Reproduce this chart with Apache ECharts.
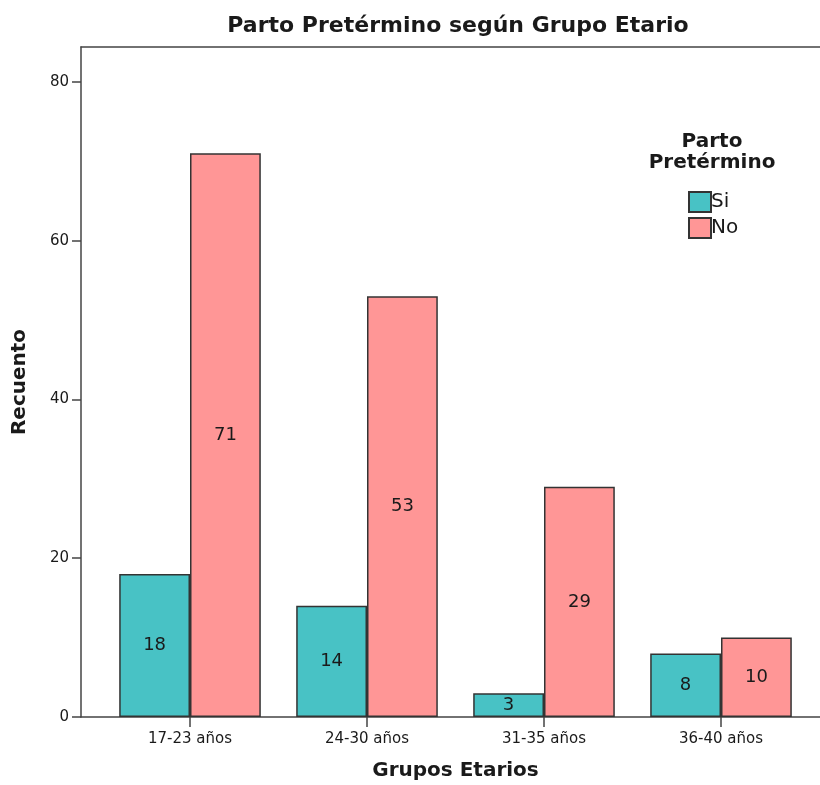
<!DOCTYPE html>
<html>
<head>
<meta charset="utf-8">
<script src="https://cdn.jsdelivr.net/npm/echarts@6/dist/echarts.min.js"></script>
<style>
  html, body { margin: 0; padding: 0; background: #fff; }
  #chart { width: 820px; height: 785px; }
</style>
</head>
<body>
<div id="chart"></div>
<script>
// Age groups and counts of preterm births (Si) vs not (No)
const categories = ['17-23 años', '24-30 años', '31-35 años', '36-40 años'];
const siValues = [18, 14, 3, 8];
const noValues = [71, 53, 29, 10];
const yTicks = [0, 20, 40, 60, 80];
const yMax = 84.4;

const FONT = '"DejaVu Sans", Verdana, sans-serif';
const INK = '#1a1a1a';
const LINE = '#444';

const chart = echarts.init(document.getElementById('chart'));

chart.setOption({
  animation: false,
  textStyle: { fontFamily: FONT },
  title: {
    text: 'Parto Pretérmino según Grupo Etario',
    left: 453, top: 10, textAlign: 'center',
    textStyle: { fontSize: 22, fontWeight: 'bold', color: INK, fontFamily: FONT }
  },
  legend: {
    orient: 'vertical',
    left: 683, top: 186,
    itemWidth: 22, itemHeight: 20, itemGap: 4,
    icon: 'rect',
    textStyle: { fontSize: 20, lineHeight: 20, color: INK, padding: [0, 0, 0, -5] },
    data: ['Si', 'No']
  },
  graphic: [{
    type: 'text',
    x: 712, y: 131,
    style: {
      text: 'Parto\nPretérmino',
      fontSize: 20, fontWeight: 'bold', fontFamily: FONT,
      fill: INK, align: 'center', verticalAlign: 'top', lineHeight: 21
    }
  }],
  grid: [
    // frame grid: axis line, top border and value ticks
    { left: 81, top: 47, right: -10, bottom: 68, outerBoundsMode: 'none', containLabel: false },
    // bar grid: category slots
    { left: 101.5, top: 47, right: 10.5, bottom: 68, outerBoundsMode: 'none', containLabel: false }
  ],
  xAxis: [
    {
      gridIndex: 0, type: 'value', min: 0, max: 1, position: 'bottom',
      axisLine: { show: true, lineStyle: { color: LINE, width: 1.5 } },
      axisTick: { show: false }, axisLabel: { show: false }, splitLine: { show: false }
    },
    {
      gridIndex: 0, type: 'value', min: 0, max: 1, position: 'top',
      axisLine: { show: true, lineStyle: { color: LINE, width: 1.5 } },
      axisTick: { show: false }, axisLabel: { show: false }, splitLine: { show: false }
    },
    {
      gridIndex: 1, type: 'category', data: categories,
      boundaryGap: true,
      name: 'Grupos Etarios', nameLocation: 'middle', nameGap: 44,
      nameTextStyle: { fontSize: 20, fontWeight: 'bold', color: INK, fontFamily: FONT },
      axisLine: { show: false },
      axisTick: { show: true, alignWithLabel: true, length: 10, lineStyle: { color: LINE, width: 1.5 } },
      axisLabel: { fontSize: 15, color: INK, margin: 15 }
    }
  ],
  yAxis: [
    {
      gridIndex: 0, type: 'value', min: 0, max: yMax,
      name: 'Recuento', nameLocation: 'middle', nameGap: 51, nameRotate: 90,
      nameTextStyle: { fontSize: 20, fontWeight: 'bold', color: INK, fontFamily: FONT },
      axisLine: { show: true, lineStyle: { color: LINE, width: 1.5 } },
      axisTick: { show: true, length: 9, customValues: yTicks, lineStyle: { color: LINE, width: 1.5 } },
      axisLabel: { fontSize: 15, color: INK, margin: 12, customValues: yTicks },
      splitLine: { show: false }
    },
    {
      gridIndex: 1, type: 'value', min: 0, max: yMax, show: false
    }
  ],
  series: [
    {
      name: 'Si', type: 'bar', xAxisIndex: 2, yAxisIndex: 1,
      data: siValues,
      barGap: 0, barCategoryGap: '20%',
      itemStyle: { color: '#48C2C5', borderColor: '#333', borderWidth: 1.5 },
      label: { show: true, position: 'inside', fontSize: 18, color: INK }
    },
    {
      name: 'No', type: 'bar', xAxisIndex: 2, yAxisIndex: 1,
      data: noValues,
      barGap: 0, barCategoryGap: '20%',
      itemStyle: { color: '#FF9696', borderColor: '#333', borderWidth: 1.5 },
      label: { show: true, position: 'inside', fontSize: 18, color: INK }
    }
  ]
});
</script>
</body>
</html>
